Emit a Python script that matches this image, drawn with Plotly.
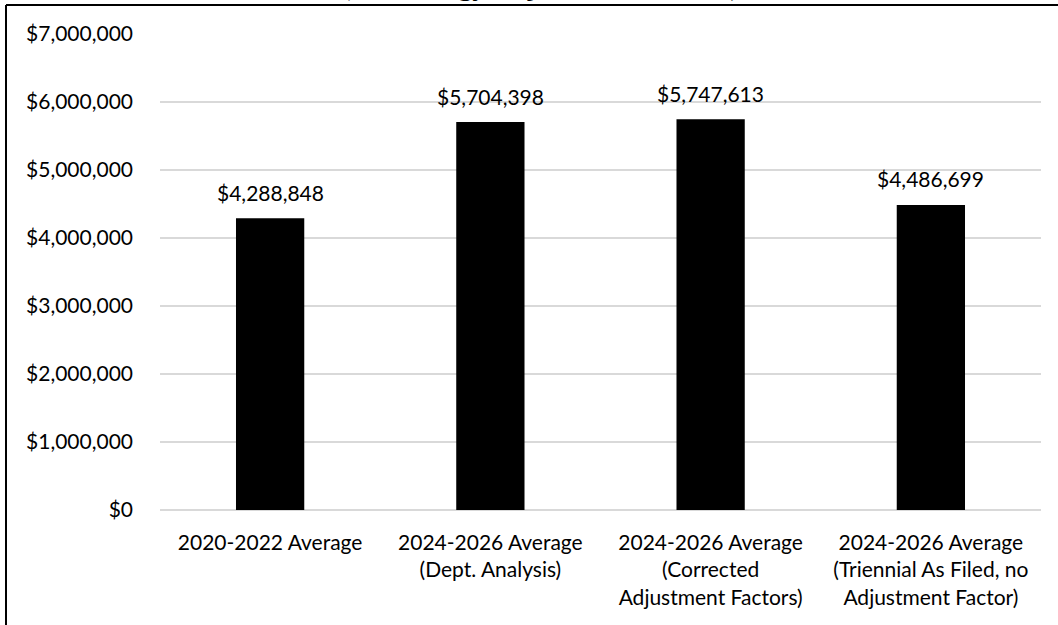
import plotly.graph_objects as go

categories = [
    "2020-2022 Average",
    "2024-2026 Average<br>(Dept. Analysis)",
    "2024-2026 Average<br>(Corrected<br>Adjustment Factors)",
    "2024-2026 Average<br>(Triennial As Filed, no<br>Adjustment Factor)",
]
values = [4288848, 5704398, 5747613, 4486699]
tick_vals = [0, 1000000, 2000000, 3000000, 4000000, 5000000, 6000000, 7000000]
tick_text = ["$0", "$1,000,000", "$2,000,000", "$3,000,000", "$4,000,000",
             "$5,000,000", "$6,000,000", "$7,000,000"]
title_text = "(Technology Adjustment Factors)"

W, H = 1058, 625
L, R, T, B = 160, 17, 34, 115
pw, ph = W - L - R, H - T - B

FONT = "Lato, Calibri, Carlito, sans-serif"

fig = go.Figure()
fig.add_trace(go.Bar(
    x=categories, y=values,
    marker=dict(color="#000000", line=dict(width=0)),
    width=0.31,
))

def px_x(p):
    return (p - L) / pw

def px_y(p):
    return (H - B - p) / ph

shapes = [
    dict(type="line", xref="paper", yref="paper", x0=px_x(6), x1=px_x(W + 5),
         y0=px_y(5), y1=px_y(5), line=dict(color="#000000", width=2)),
    dict(type="line", xref="paper", yref="paper", x0=px_x(6), x1=px_x(6),
         y0=px_y(5), y1=px_y(H + 5), line=dict(color="#000000", width=2)),
]

annotations = [dict(
    text="<b>" + title_text + "</b>", xref="paper", yref="paper",
    x=px_x(540), y=px_y(0), xanchor="center", yanchor="bottom", yshift=-2.5,
    showarrow=False,
    font=dict(family="Liberation Serif, Times New Roman, serif", size=28, color="#000000"),
)]
for c, v in zip(categories, values):
    annotations.append(dict(
        x=c, y=v, xref="x", yref="y", text="${:,.0f}".format(v),
        showarrow=False, xanchor="center", yanchor="middle", yshift=26,
        font=dict(family=FONT, size=21, color="#000000"),
    ))

fig.update_layout(
    width=W, height=H,
    margin=dict(l=L, r=R, t=T, b=B, pad=0),
    paper_bgcolor="#ffffff", plot_bgcolor="#ffffff",
    showlegend=False,
    font=dict(family=FONT, size=21, color="#000000"),
    shapes=shapes,
    annotations=annotations,
    xaxis=dict(
        showgrid=False, showline=False, zeroline=False,
        ticks="", tickfont=dict(family=FONT, size=21, color="#000000"),
        ticklabelstandoff=18,
    ),
    yaxis=dict(
        range=[0, 7000000], tickvals=tick_vals, ticktext=tick_text,
        showgrid=True, gridcolor="#d9d9d9", gridwidth=2,
        zeroline=True, zerolinecolor="#d9d9d9", zerolinewidth=2,
        showline=False, ticks="", ticklabelstandoff=26,
        tickfont=dict(family=FONT, size=21, color="#000000"),
    ),
)

fig.write_html("out.html")
